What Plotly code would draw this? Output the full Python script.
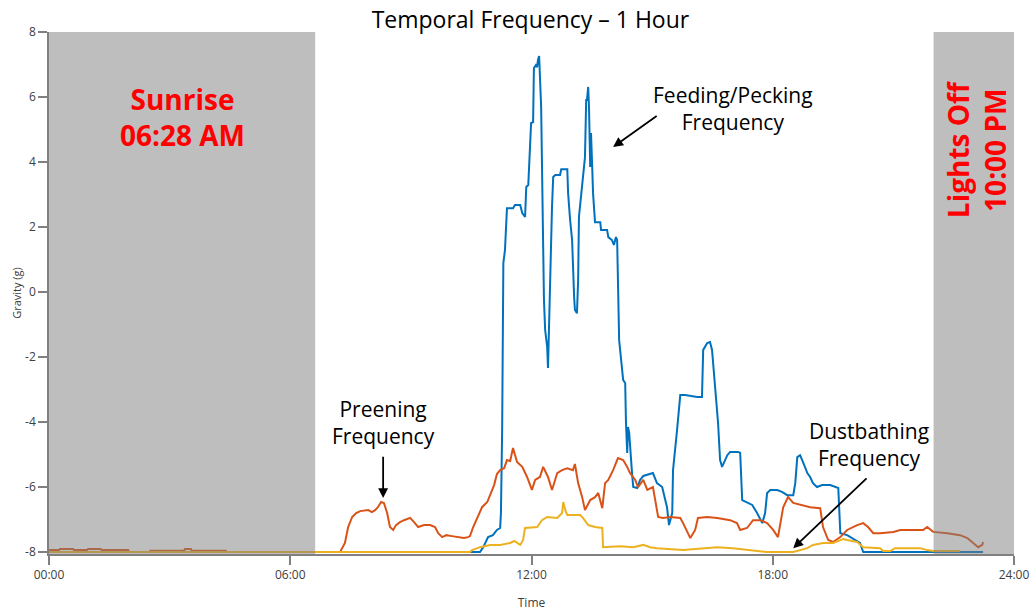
import plotly.graph_objects as go

# ---- data (hours since midnight, gravity g) ----
feeding_t = [0, 10.72, 10.80, 10.92, 11.04, 11.14, 11.22, 11.24, 11.27, 11.29, 11.30, 11.34, 11.37, 11.39,
             11.54, 11.59, 11.72, 11.77, 11.84, 11.87, 11.92, 11.94, 11.99, 12.04, 12.06, 12.11, 12.14, 12.16,
             12.19, 12.24, 12.26, 12.29, 12.31, 12.34, 12.39, 12.41, 12.44, 12.46, 12.51, 12.54, 12.59, 12.71,
             12.74, 12.89, 12.91, 12.96, 13.01, 13.06, 13.08, 13.13, 13.16, 13.18, 13.23, 13.26, 13.33, 13.36,
             13.38, 13.41, 13.43, 13.46, 13.48, 13.51, 13.53, 13.58, 13.71, 13.73, 13.88, 13.91, 14.00, 14.05,
             14.10, 14.13, 14.15, 14.18, 14.28, 14.33, 14.35, 14.38, 14.40, 14.43, 14.50, 14.53, 14.63, 14.70,
             14.78, 15.02, 15.12, 15.25, 15.37, 15.42, 15.50, 15.52, 15.62, 15.70, 15.82, 16.12, 16.24, 16.27,
             16.37, 16.44, 16.49, 16.57, 16.64, 16.69, 16.74, 16.87, 16.94, 17.14, 17.19, 17.24, 17.36, 17.49,
             17.61, 17.74, 17.81, 17.86, 17.94, 18.11, 18.23, 18.36, 18.51, 18.56, 18.61, 18.68, 18.76, 18.86,
             18.93, 19.00, 19.10, 19.23, 19.43, 19.55, 19.63, 19.68, 19.85, 20.17, 20.25, 23.23]
feeding_v = [-8.0, -8.0, -7.85, -7.54, -7.48, -7.32, -7.26, -6.80, -4.25, -0.15, 0.89, 1.29, 1.91, 2.58,
             2.58, 2.68, 2.68, 2.43, 2.31, 3.23, 3.29, 3.91, 5.20, 5.23, 6.89, 6.98, 6.92, 7.14,
             7.26, 5.69, 3.66, 1.60, -0.25, -1.17, -1.69, -2.34, -0.65, 0.58, 2.62, 3.54, 3.60, 3.60,
             3.78, 3.78, 3.05, 2.22, 1.60, -0.15, -0.55, -0.65, 0.37, 2.31, 2.92, 3.51, 4.15, 5.91,
             5.91, 6.31, 5.69, 3.85, 4.89, 3.85, 3.05, 2.15, 2.15, 1.91, 1.91, 1.69, 1.60, 1.45,
             1.69, 1.60, -0.25, -1.48, -2.71, -2.80, -4.03, -4.95, -4.15, -4.34, -5.57, -6.00, -6.03, -5.78,
             -5.66, -5.57, -5.88, -6.00, -6.62, -7.17, -6.80, -5.48, -4.25, -3.17, -3.17, -3.23, -3.23, -1.78,
             -1.57, -1.54, -1.78, -2.92, -4.03, -5.17, -5.38, -5.02, -4.92, -4.92, -4.95, -6.40, -6.46, -6.55,
             -6.80, -7.11, -6.80, -6.18, -6.09, -6.09, -6.15, -6.25, -6.25, -5.88, -5.08, -5.02, -5.26, -5.57,
             -5.69, -5.88, -6.00, -5.94, -5.94, -6.00, -6.03, -7.42, -7.48, -7.72, -8.0, -8.0]

preening_t = [0, 0.25, 0.27, 0.60, 0.62, 0.95, 0.97, 1.29, 1.31, 1.97, 1.99, 2.50, 2.52, 3.36, 3.38, 3.53,
              3.55, 4.40, 4.42, 7.24, 7.36, 7.44, 7.54, 7.64, 7.74, 7.94, 8.03, 8.11, 8.18, 8.26, 8.33,
              8.41, 8.48, 8.56, 8.63, 8.73, 8.83, 8.98, 9.08, 9.18, 9.33, 9.48, 9.60, 9.68, 9.78, 9.88,
              10.02, 10.17, 10.32, 10.42, 10.47, 10.55, 10.65, 10.77, 10.90, 11.00, 11.07, 11.14, 11.22,
              11.32, 11.39, 11.47, 11.54, 11.64, 11.77, 11.89, 12.01, 12.09, 12.21, 12.29, 12.41, 12.51,
              12.64, 12.76, 12.89, 13.03, 13.08, 13.16, 13.26, 13.33, 13.46, 13.58, 13.66, 13.76, 13.83,
              13.91, 14.03, 14.15, 14.28, 14.38, 14.45, 14.58, 14.65, 14.78, 14.88, 15.02, 15.15, 15.27,
              15.45, 15.70, 15.77, 15.95, 16.07, 16.14, 16.37, 16.62, 16.94, 17.11, 17.19, 17.36, 17.51,
              17.69, 17.86, 18.01, 18.13, 18.26, 18.38, 18.51, 18.68, 18.93, 19.18, 19.25, 19.38, 19.50,
              19.68, 19.85, 20.10, 20.25, 20.37, 20.50, 20.67, 21.00, 21.17, 21.49, 21.74, 21.84, 21.99,
              22.34, 22.66, 22.84, 22.99, 23.11, 23.21, 23.23]
preening_v = [-7.94, -7.94, -7.91, -7.91, -7.94, -7.94, -7.91, -7.91, -7.94, -7.94, -8.0, -8.0, -7.96, -7.96,
              -7.91, -7.91, -7.96, -7.96, -8.0, -8.0, -7.72, -7.23, -6.92, -6.80, -6.74, -6.71, -6.77,
              -6.71, -6.62, -6.46, -6.49, -6.80, -7.23, -7.32, -7.17, -7.08, -7.02, -6.95, -7.08, -7.23,
              -7.17, -7.17, -7.23, -7.42, -7.54, -7.48, -7.51, -7.54, -7.57, -7.54, -7.51, -7.23, -6.95,
              -6.62, -6.46, -6.18, -5.94, -5.60, -5.48, -5.42, -5.17, -5.20, -4.80, -5.23, -5.38, -5.69,
              -6.09, -5.78, -5.69, -5.38, -5.69, -6.09, -5.57, -5.48, -5.42, -5.48, -5.29, -5.88, -6.31,
              -6.71, -6.40, -6.31, -6.18, -6.65, -5.88, -5.78, -5.48, -5.11, -5.17, -5.38, -5.57, -5.78,
              -6.00, -5.78, -6.09, -6.00, -6.92, -6.95, -6.92, -6.95, -7.11, -7.57, -7.32, -6.95, -6.92,
              -6.95, -7.02, -7.11, -7.32, -7.26, -7.02, -7.02, -7.11, -7.32, -7.54, -6.62, -6.31, -6.49,
              -6.55, -6.62, -6.65, -7.23, -7.63, -7.69, -7.54, -7.32, -7.17, -7.11, -7.23, -7.42, -7.42,
              -7.38, -7.32, -7.32, -7.32, -7.23, -7.38, -7.42, -7.48, -7.57, -7.72, -7.85, -7.78, -7.69]

dust_t = [0, 10.47, 10.52, 10.72, 10.97, 11.22, 11.47, 11.57, 11.72, 11.79, 11.84, 12.14, 12.26, 12.39,
          12.64, 12.76, 12.79, 12.84, 12.89, 13.21, 13.28, 13.41, 13.58, 13.76, 13.78, 14.03, 14.20, 14.53,
          14.78, 14.95, 15.12, 15.77, 16.12, 16.62, 17.01, 17.44, 17.86, 18.51, 18.86, 19.00, 19.25, 19.50,
          19.75, 19.85, 20.10, 20.25, 20.67, 20.75, 20.92, 21.04, 21.67, 21.84, 21.99, 22.66]
dust_v = [-8.0, -8.0, -7.94, -7.85, -7.78, -7.78, -7.72, -7.66, -7.78, -7.63, -7.26, -7.23, -7.02, -6.92,
          -6.95, -6.80, -6.46, -6.71, -6.86, -6.86, -6.95, -7.17, -7.23, -7.26, -7.85, -7.82, -7.82, -7.85,
          -7.78, -7.85, -7.88, -7.94, -7.91, -7.85, -7.88, -7.94, -8.0, -8.0, -7.88, -7.78, -7.72, -7.72,
          -7.60, -7.63, -7.69, -7.85, -7.88, -7.97, -7.97, -7.88, -7.88, -7.94, -7.97, -7.97]

x_tickvals = [0, 6, 12, 18, 24]
x_ticktext = ["00:00", "06:00", "12:00", "18:00", "24:00"]
y_tickvals = [-8, -6, -4, -2, 0, 2, 4, 6, 8]
y_ticktext = ["-8", "-6", "-4", "-2", "0", "2", "4", "6", "8"]
sunrise_h = 6.62
lights_off_h = 22.0

FONT = "Open Sans"
fig = go.Figure()
fig.add_trace(go.Scatter(x=feeding_t, y=feeding_v, mode="lines", name="Feeding/Pecking",
                         line=dict(color="#0072BD", width=2)))
fig.add_trace(go.Scatter(x=preening_t, y=preening_v, mode="lines", name="Preening",
                         line=dict(color="#D95319", width=2)))
fig.add_trace(go.Scatter(x=dust_t, y=dust_v, mode="lines", name="Dustbathing",
                         line=dict(color="#EDB120", width=2)))

shade = "rgba(125,125,125,0.5)"
fig.add_shape(type="rect", xref="x", yref="paper", x0=0, x1=sunrise_h, y0=0, y1=1,
              fillcolor=shade, line=dict(width=0), layer="above")
fig.add_shape(type="rect", xref="x", yref="paper", x0=lights_off_h, x1=24, y0=0, y1=1,
              fillcolor=shade, line=dict(width=0), layer="above")

red = dict(family=FONT, size=28, color="#FF0000", weight="bold")
fig.add_annotation(x=3.31, y=5.4, text="<b>Sunrise<br>06:28 AM</b>", showarrow=False, font=red)
fig.add_annotation(x=23.06, y=4.37, text="<b>Lights Off<br>10:00 PM</b>", showarrow=False,
                   font=red, textangle=-90)

lab = dict(family=FONT, size=21, color="#000000")
fig.add_annotation(x=17.01, y=5.66, text="Feeding/Pecking<br>Frequency", showarrow=False, font=lab)
fig.add_annotation(x=8.31, y=-4.0, text="Preening<br>Frequency", showarrow=False, font=lab)
fig.add_annotation(x=20.40, y=-4.69, text="Dustbathing<br>Frequency", showarrow=False, font=lab)

arrows = [((14.03, 4.46), (15.15, 5.45)),
          ((8.31, -6.34), (8.31, -5.02)),
          ((18.51, -7.88), (20.37, -5.69))]
for (hx, hy), (tx, ty) in arrows:
    fig.add_annotation(x=hx, y=hy, ax=tx, ay=ty, xref="x", yref="y", axref="x", ayref="y",
                       text="", showarrow=True, arrowhead=2, arrowsize=1.1, arrowwidth=1.8,
                       arrowcolor="#000000")

fig.update_layout(
    width=1034, height=611,
    margin=dict(l=49, r=20, t=32, b=57, autoexpand=False),
    paper_bgcolor="white", plot_bgcolor="white",
    showlegend=False,
    title=dict(text="Temporal Frequency – 1 Hour", x=0.513, xanchor="center", y=0.968, yanchor="middle",
               font=dict(family=FONT, size=23, color="#000000")),
    font=dict(family=FONT),
)
fig.update_xaxes(range=[0, 24], tickvals=x_tickvals, ticktext=x_ticktext, showgrid=False, zeroline=False,
                 automargin=False,
                 showline=True, linecolor="#808080", linewidth=1.5, ticks="outside", ticklen=9,
                 tickcolor="#808080", tickwidth=1.5, tickfont=dict(family=FONT, size=12, color="#404040"),
                 title=dict(text="Time", font=dict(family=FONT, size=12, color="#404040"), standoff=18))
fig.update_yaxes(range=[-8.06, 8], tickvals=y_tickvals, ticktext=y_ticktext, showgrid=False, zeroline=False,
                 automargin=False,
                 showline=True, linecolor="#808080", linewidth=1.5, ticks="outside", ticklen=9,
                 tickcolor="#808080", tickwidth=1.5, tickfont=dict(family=FONT, size=12, color="#404040"),
                 title=dict(text="Gravity (g)", font=dict(family=FONT, size=11, color="#404040"), standoff=1))

fig.write_html("out.html", config={"displayModeBar": False},
               post_script="document.body.style.margin='0';")
